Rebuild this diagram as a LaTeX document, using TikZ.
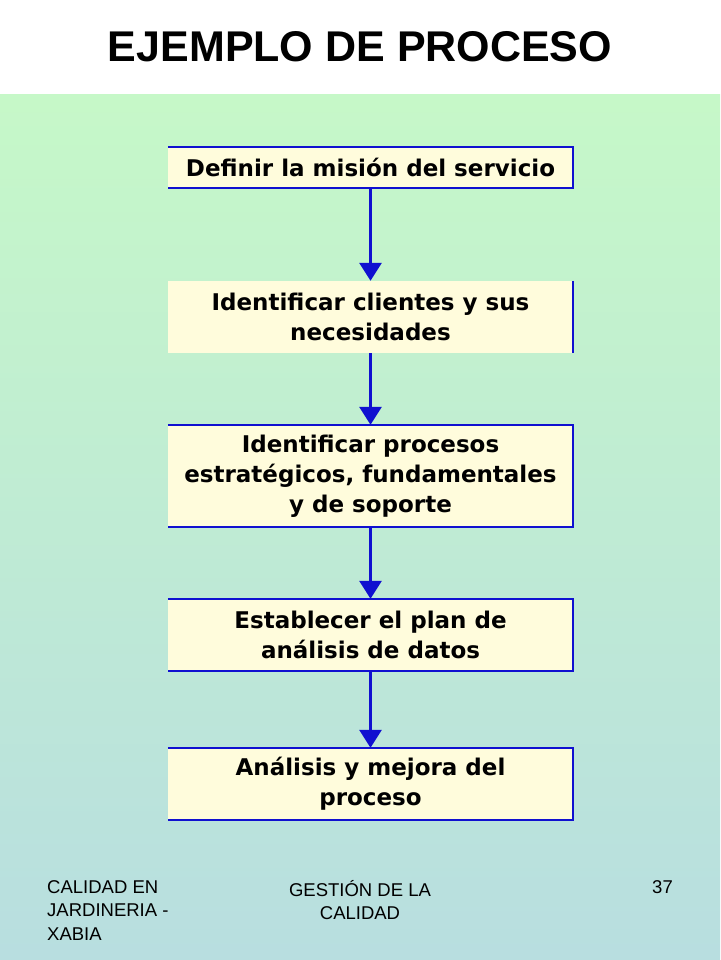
\documentclass[tikz,border=0pt]{standalone}
\usepackage{fontspec}
\setmainfont{Liberation Sans}
\newfontfamily\boxfont{DejaVu Sans}
\usetikzlibrary{arrows.meta}
\definecolor{bgtop}{HTML}{C6F8C8}
\definecolor{bgbot}{HTML}{B8DEE0}
\definecolor{boxfill}{HTML}{FFFCDC}
\definecolor{lineblue}{HTML}{1010D0}
\begin{document}
\begin{tikzpicture}[x=1pt,y=-1pt,
  stepbox/.style={fill=boxfill,draw=none,minimum width=405pt,inner sep=0pt,align=center,font=\boxfont\bfseries\fontsize{23}{30}\selectfont},
  foot/.style={font=\fontsize{18.5}{23.5}\selectfont,inner sep=0pt},
  edge/.style={draw=lineblue,line width=1.5pt},
  flow/.style={draw=lineblue,line width=3pt,-{Triangle[width=22pt,length=18pt]}}]
\useasboundingbox (0,0) rectangle (720,960);
\fill[white] (0,0) rectangle (720,95);
\shade[top color=bgtop,bottom color=bgbot] (0,95) rectangle (720,960);
\node[font=\bfseries\fontsize{43}{48}\selectfont] (title) at (360,47) {EJEMPLO DE PROCESO};
\node[stepbox,minimum height=41pt] (b1) at (370.5,167.5) {Definir la misión del servicio};
\node[stepbox,minimum height=72pt] (b2) at (370.5,317) {Identificar clientes y sus\\necesidades};
\node[stepbox,minimum height=102pt] (b3) at (370.5,476) {Identificar procesos\\estratégicos, fundamentales\\y de soporte};
\node[stepbox,minimum height=72pt] (b4) at (370.5,635) {Establecer el plan de\\análisis de datos};
\node[stepbox,minimum height=72pt] (b5) at (370.5,784) {Análisis y mejora del\\proceso};
\foreach \b in {b1,b3,b4,b5}{
  \draw[edge] (\b.north west) -- (\b.north east) -- (\b.south east) -- (\b.south west);}
\draw[edge] (b2.north east) -- (b2.south east);
\draw[flow] (b1.south) -- (b2.north);
\draw[flow] (b2.south) -- (b3.north);
\draw[flow] (b3.south) -- (b4.north);
\draw[flow] (b4.south) -- (b5.north);
\node[foot,align=left,anchor=north west] (f1) at (47,880) {CALIDAD EN\\JARDINERIA -\\XABIA};
\node[foot,align=center,anchor=north] (f2) at (360,880) {GESTIÓN DE LA\\CALIDAD};
\node[foot,anchor=north east] (f3) at (673,880) {37};
\end{tikzpicture}
\end{document}
